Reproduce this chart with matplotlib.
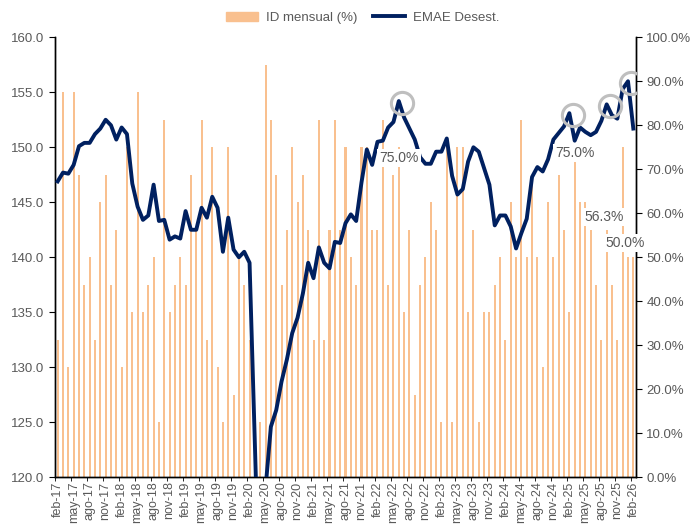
import numpy as np
import pandas as pd
import matplotlib
matplotlib.use("Agg")
import matplotlib.pyplot as plt
from matplotlib.patches import Patch
from matplotlib.lines import Line2D

# monthly categories feb-17 .. feb-26
MESES = ['ene', 'feb', 'mar', 'abr', 'may', 'jun', 'jul', 'ago', 'sep', 'oct', 'nov', 'dic']
fechas = pd.date_range('2017-02-01', '2026-02-01', freq='MS')
categorias = [f"{MESES[d.month - 1]}-{d.strftime('%y')}" for d in fechas]

# EMAE desestacionalizado (left axis)
emae = [146.9, 147.7, 147.6, 148.4, 150.1, 150.4, 150.4, 151.2, 151.7, 152.5, 152.0, 150.7,
        151.8, 151.2, 146.7, 144.6, 143.4, 143.8, 146.6, 143.3, 143.4, 141.6, 141.9, 141.7,
        144.2, 142.5, 142.5, 144.5, 143.6, 145.5, 144.5, 140.5, 143.6, 140.7, 140.0, 140.5,
        139.5, 123.0, 106.0, 119.0, 124.6, 126.1, 128.7, 130.7, 133.1, 134.5, 136.7, 139.5,
        138.1, 140.9, 139.5, 139.0, 141.4, 141.3, 143.1, 143.9, 143.3, 146.8, 149.8, 148.4,
        150.5, 150.6, 151.8, 152.3, 154.2, 152.7, 151.7, 150.7, 149.1, 148.5, 148.5, 149.6,
        149.6, 150.8, 147.4, 145.7, 146.2, 148.7, 150.0, 149.6, 148.1, 146.6, 142.9, 143.8,
        143.8, 142.8, 140.8, 142.2, 143.5, 147.3, 148.2, 147.8, 148.9, 150.7, 151.3, 151.9,
        153.1, 150.6, 151.8, 151.4, 151.1, 151.4, 152.4, 153.9, 152.9, 152.6, 155.3, 156.0,
        151.7]

# indice de difusion mensual, % (right axis)
id_mensual = [31.25, 87.5, 25.0, 87.5, 68.75, 43.75, 50.0, 31.25, 62.5, 68.75, 43.75, 56.25,
              25.0, 75.0, 37.5, 87.5, 37.5, 43.75, 50.0, 12.5, 81.25, 37.5, 43.75, 50.0,
              43.75, 68.75, 56.25, 81.25, 31.25, 75.0, 25.0, 12.5, 75.0, 18.75, 50.0, 43.75,
              31.25, 6.25, 12.5, 93.75, 81.25, 68.75, 43.75, 56.25, 75.0, 62.5, 68.75, 56.25,
              31.25, 81.25, 31.25, 56.25, 81.25, 56.25, 75.0, 50.0, 43.75, 75.0, 75.0, 56.25,
              56.25, 81.25, 43.75, 68.75, 75.0, 37.5, 56.25, 18.75, 43.75, 50.0, 62.5, 56.25,
              12.5, 75.0, 12.5, 75.0, 75.0, 37.5, 56.25, 12.5, 37.5, 37.5, 43.75, 50.0,
              31.25, 62.5, 50.0, 81.25, 50.0, 68.75, 50.0, 25.0, 62.5, 50.0, 68.75, 56.25,
              37.5, 75.0, 62.5, 62.5, 56.25, 43.75, 31.25, 56.25, 43.75, 31.25, 75.0, 50.0,
              50.0]

# highlighted peaks (circles) and labelled bars
picos = [64, 96, 103, 107]
etiquetas = [64, 97, 103, 107]
etiq_offset = [(0, -8), (0, -4), (-2, 9), (-2, 10)]  # points

NAVY = '#002060'
ORANGE = '#F9C08F'
GRIS = '#595959'

plt.rcParams['font.family'] = ['Liberation Sans', 'DejaVu Sans']


def pct(v):
    # excel style rounding (56.25 -> 56.3)
    return f"{int(v * 10 + 0.5) / 10:.1f}%"


x = np.arange(len(categorias))

fig = plt.figure(figsize=(6.91, 5.25), dpi=100)
ax = fig.add_axes([0.0796, 0.0909, 0.8408, 0.8381])
ax2 = ax.twinx()

ax2.bar(x, id_mensual, width=0.38, color=ORANGE, linewidth=0)
ax2.set_ylim(0, 100)
ax2.set_yticks(np.arange(0, 101, 10))
ax2.set_yticklabels([pct(v) for v in np.arange(0, 101, 10)])

ax.plot(x, emae, color=NAVY, lw=2.8, solid_joinstyle='round', zorder=3)
ax.set_ylim(120, 160)
ax.set_yticks(np.arange(120, 161, 5))
ax.set_yticklabels([f"{v:.1f}" for v in np.arange(120, 161, 5)])
ax.set_xlim(-0.5, len(x) - 0.5)

# put line axis above bar axis
ax.set_zorder(ax2.get_zorder() + 1)
ax.patch.set_visible(False)

# circles around peaks
px = np.array(picos)
py = np.array([emae[i] for i in picos])
ax.plot(px + 0.6, py - 0.15, 'o', ms=16, mfc='none', mec='#BFBFBF', mew=2.2, zorder=4)

# bar value labels (drawn on ax, above line)
for i, (dx, dy) in zip(etiquetas, etiq_offset):
    yv = 120 + id_mensual[i] / 100 * 40
    ax.annotate(pct(id_mensual[i]), (i, yv), xytext=(dx, dy), textcoords='offset points',
                ha='center', va='center', fontsize=10, color=GRIS, zorder=5,
                bbox=dict(boxstyle='square,pad=0.15', fc='white', ec='none'))

# x axis
ax.set_xticks(x[::3])
ax.set_xticklabels(categorias[::3], rotation=90, fontsize=9, color=GRIS)
ax.set_xticks(np.arange(-0.5, len(x), 3), minor=True)
ax.tick_params(axis='x', which='major', length=0, pad=3)
ax.tick_params(axis='x', which='minor', length=3, direction='out', color='black')

ax.tick_params(axis='y', labelsize=9.5, labelcolor=GRIS, length=4, direction='out')
ax2.tick_params(axis='y', labelsize=9.5, labelcolor=GRIS, length=4, direction='out')

for a in (ax, ax2):
    a.spines['top'].set_visible(False)
    for s in ('left', 'right', 'bottom'):
        a.spines[s].set_color('black')
        a.spines[s].set_linewidth(1.0)

handles = [Patch(color=ORANGE, label='ID mensual (%)'),
           Line2D([0], [0], color=NAVY, lw=2.8, label='EMAE Desest.')]
fig.legend(handles=handles, loc='center', bbox_to_anchor=(0.525, 0.966), ncol=2,
           frameon=False, fontsize=9.5, labelcolor=GRIS, handlelength=2.4, columnspacing=1.2,
           handletextpad=0.6)

fig.savefig('out.png', dpi=100)
